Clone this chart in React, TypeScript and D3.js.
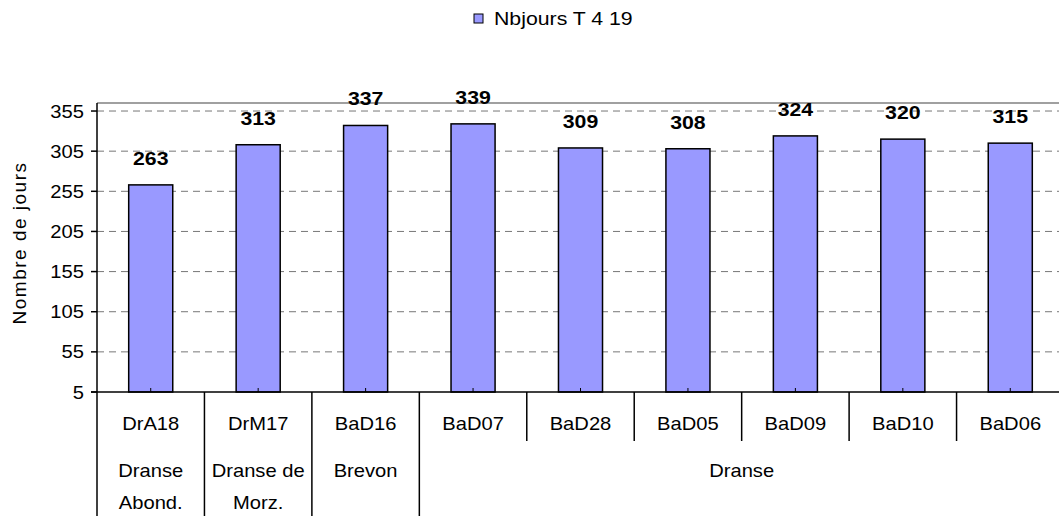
import React from "react";
import * as d3 from "d3";

const categories = ["DrA18", "DrM17", "BaD16", "BaD07", "BaD28", "BaD05", "BaD09", "BaD10", "BaD06"];
const values = [263, 313, 337, 339, 309, 308, 324, 320, 315];
const yTicks = [5, 55, 105, 155, 205, 255, 305, 355];
const groupLabels = [["Dranse", "Abond."], ["Dranse de", "Morz."], ["Brevon"], ["Dranse"]];
const groupSpans = [1, 1, 1, 6];
const seriesName = "Nbjours T 4 19";
const yTitle = "Nombre de jours";

const W = 1059, H = 516;
const L = 97, R = 1064, T = 103, B = 392;
const SX = 1.12;
const FONT = "'Liberation Sans', Arial, sans-serif";

function SText({ x, y, children, size, anchor = "middle", weight = "normal" }: any) {
  return (
    <g transform={`translate(${x},${y}) scale(${SX},1)`}>
      <text x={0} y={0} fontSize={size} textAnchor={anchor} fontWeight={weight} fontFamily={FONT} fill="#000">
        {children}
      </text>
    </g>
  );
}

export default function App() {
  const x = d3.scaleBand<string>().domain(categories).range([L, R]).padding(0);
  const y = d3.scaleLinear().domain([5, 365]).range([B, T]);
  const bw = x.bandwidth() * 0.41;

  const groupStarts: number[] = [];
  let acc = 0;
  groupSpans.forEach((s) => { groupStarts.push(acc); acc += s; });
  const isGroupBoundary = (i: number) => groupStarts.includes(i) || i === categories.length;

  return (
    <div style={{ position: "absolute", left: 0, top: 0 }}>
      <svg width={W} height={H} style={{ display: "block" }}>
        <rect x={0} y={0} width={W} height={H} fill="#fff" />
        {/* legend */}
        <rect x={474} y={14} width={9} height={9} fill="#9999FF" stroke="#000" strokeWidth={1} />
        <SText x={494} y={25} size={19} anchor="start">{seriesName}</SText>

        {/* grid */}
        {yTicks.filter((t) => t !== 5).map((t) => (
          <line key={t} x1={L} x2={R} y1={y(t)} y2={y(t)} stroke="#777" strokeWidth={1} strokeDasharray="7,5" />
        ))}
        <line x1={L} x2={R} y1={T} y2={T} stroke="#808080" strokeWidth={1.5} />

        {/* bars */}
        {categories.map((c, i) => {
          const cx = (x(c) as number) + x.bandwidth() / 2;
          return (
            <g key={c}>
              <rect x={cx - bw / 2} y={y(values[i])} width={bw} height={B - y(values[i])} fill="#9999FF" stroke="#000" strokeWidth={1.5} />
              <SText x={cx} y={y(values[i]) - 20} size={19} weight="bold">{values[i]}</SText>
              <line x1={cx} x2={cx} y1={B} y2={B - 4} stroke="#000" strokeWidth={1} />
            </g>
          );
        })}

        {/* y axis */}
        <line x1={L} x2={L} y1={T} y2={B} stroke="#000" strokeWidth={1.5} />
        {yTicks.map((t) => (
          <g key={t}>
            <line x1={L - 6} x2={L} y1={y(t)} y2={y(t)} stroke="#000" strokeWidth={1.5} />
            <SText x={84} y={y(t) + 6.5} size={18} anchor="end">{t}</SText>
          </g>
        ))}
        <text transform={`translate(26,243) rotate(-90)`} fontSize={19} letterSpacing={1.5} textAnchor="middle" fontFamily={FONT}>{yTitle}</text>

        {/* x axis */}
        <line x1={L - 6} x2={R} y1={B} y2={B} stroke="#000" strokeWidth={1.5} />
        {d3.range(categories.length + 1).map((i) => {
          const xx = L + i * x.step();
          return <line key={i} x1={xx} x2={xx} y1={B} y2={isGroupBoundary(i) ? H : 441} stroke="#000" strokeWidth={1.5} />;
        })}
        {categories.map((c) => (
          <SText key={c} x={(x(c) as number) + x.bandwidth() / 2} y={430} size={18}>{c}</SText>
        ))}
        {groupLabels.map((lines, gi) => {
          const cx = L + (groupStarts[gi] + groupSpans[gi] / 2) * x.step();
          return lines.map((ln, li) => (
            <SText key={gi + "-" + li} x={cx} y={477 + li * 32} size={18}>{ln}</SText>
          ));
        })}
      </svg>
    </div>
  );
}
